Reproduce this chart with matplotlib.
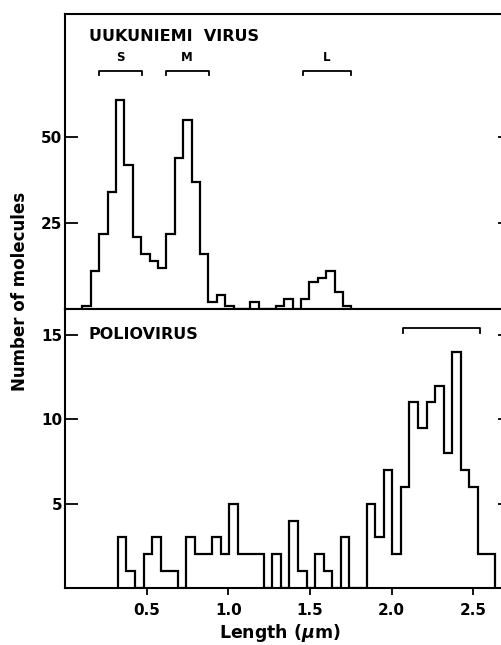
import matplotlib.pyplot as plt
import numpy as np

# histogram counts (bins ~0.05 um)
uuk_counts = [1, 11, 22, 34, 61, 42, 21, 16, 14, 12, 22, 44, 55, 37, 16, 2,
              4, 1, 0, 0, 2, 0, 0, 1, 3, 0, 3, 8, 9, 11, 5, 1]
uuk_range = (0.106, 1.754)

polio_counts = [3, 1, 0, 2, 3, 1, 1, 0, 3, 2, 2, 3, 2, 5, 2, 2, 2, 0, 2, 0,
                4, 1, 0, 2, 1, 0, 3, 0, 0, 5, 3, 7, 2, 6, 11, 9.5, 11, 12, 8, 14,
                7, 6, 2, 2]
polio_range = (0.324, 2.634)

# segment brackets (length ranges, um)
uuk_brackets = [("S", 0.206, 0.469), ("M", 0.616, 0.879), ("L", 1.455, 1.749)]
polio_bracket = (2.073, 2.539)

uuk_edges = np.linspace(uuk_range[0], uuk_range[1], len(uuk_counts) + 1)
polio_edges = np.linspace(polio_range[0], polio_range[1], len(polio_counts) + 1)

plt.rcParams['font.family'] = 'DejaVu Sans'
plt.rcParams['font.weight'] = 'bold'

fig = plt.figure(figsize=(5.02, 6.45), dpi=100)
# right spine sits just past the image edge, as in the scan
W = 443/502.
ax1 = fig.add_axes([65/502., 1-309/645., W, 295/645.])
ax2 = fig.add_axes([65/502., 1-588/645., W, 279/645.])

lw = 1.6
xmax = 2.713

# top panel
ax1.stairs(uuk_counts, uuk_edges, color='black', linewidth=lw, baseline=0)
ax1.set_xlim(0, xmax)
ax1.set_ylim(0, 86.0)
ax1.set_yticks([25, 50])
ax1.set_xticks([0.5, 1.0, 1.5, 2.0, 2.5])
ax1.tick_params(axis='x', direction='out', length=6, width=1.3, labelbottom=False)
ax1.tick_params(axis='y', direction='in', length=9, width=1.3, pad=2, labelsize=11)
ax1.text(0.145, 79.3, "UUKUNIEMI  VIRUS", fontsize=11.5, fontweight='bold', va='center', ha='left')
for lab, a, b in uuk_brackets:
    ax1.plot([a, a, b, b], [68.2, 69.3, 69.3, 68.2], color='black', linewidth=1.3)
    ax1.text((a+b)/2, 71.3, lab, fontsize=8.5, fontweight='bold', ha='center', va='bottom')

# bottom panel
ax2.stairs(polio_counts, polio_edges, color='black', linewidth=lw, baseline=0)
ax2.set_xlim(0, xmax)
ax2.set_ylim(0, 16.54)
ax2.set_yticks([5, 10, 15])
ax2.set_xticks([0.5, 1.0, 1.5, 2.0, 2.5])
ax2.set_xticklabels(["0.5", "1.0", "1.5", "2.0", "2.5"])
ax2.tick_params(axis='x', direction='out', length=5, width=1.3, pad=6, labelsize=11)
ax2.tick_params(axis='y', direction='in', length=9, width=1.3, pad=2, labelsize=11)
ax2.text(0.145, 15.0, "POLIOVIRUS", fontsize=11.5, fontweight='bold', va='center', ha='left')
a, b = polio_bracket
ax2.plot([a, a, b, b], [15.12, 15.44, 15.44, 15.12], color='black', linewidth=1.3)

for ax in (ax1, ax2):
    for s in ax.spines.values():
        s.set_linewidth(1.5)
    sec = ax.secondary_yaxis('right')
    sec.set_yticks(ax.get_yticks())
    sec.tick_params(direction='in', length=7.5, width=1.3, labelright=False)

fig.text(20/502., 1-291/645., "Number of molecules", rotation=90, fontsize=12,
         fontweight='bold', ha='center', va='center')
fig.text(280/502., 1-633/645., "Length ($\\mu$m)", fontsize=12.5,
         ha='center', va='center')

plt.savefig('out.png', dpi=100)
